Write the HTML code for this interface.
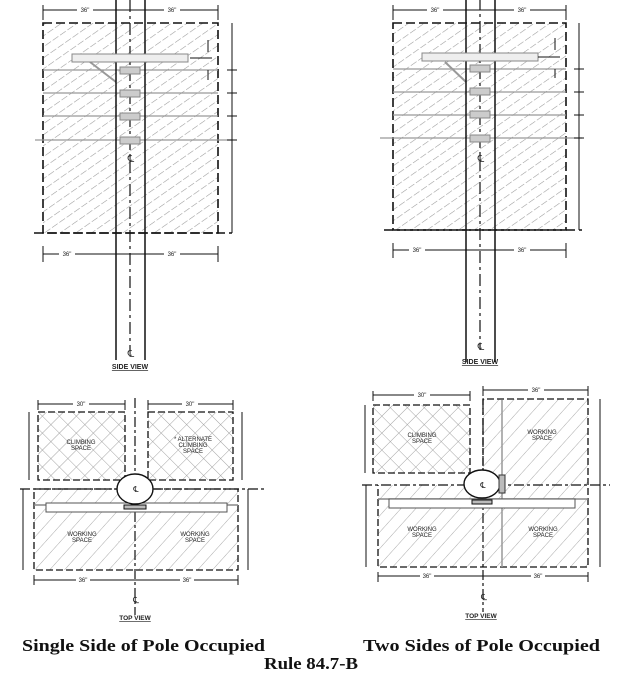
<!DOCTYPE html>
<html><head><meta charset="utf-8"><style>
html,body{margin:0;padding:0;background:#fff;width:634px;height:675px;overflow:hidden}
svg{display:block}
.t{font-family:"Liberation Sans",sans-serif;font-size:6px;fill:#222}
.c{font-family:"Liberation Serif",serif;font-weight:bold;font-size:16.5px;fill:#111}
</style></head><body>
<svg width="634" height="675" viewBox="0 0 634 675" xmlns="http://www.w3.org/2000/svg">
<defs>
<pattern id="h" width="9" height="9" patternUnits="userSpaceOnUse" patternTransform="rotate(55)">
<line x1="0" y1="0" x2="0" y2="9" stroke="#999" stroke-width="1.1" stroke-dasharray="7 2"/>
</pattern>
<pattern id="h2" width="11" height="11" patternUnits="userSpaceOnUse" patternTransform="rotate(42)">
<line x1="0" y1="0" x2="0" y2="11" stroke="#aaa" stroke-width="1"/>
</pattern>
<pattern id="x" width="12" height="12" patternUnits="userSpaceOnUse" patternTransform="rotate(45)">
<line x1="0" y1="0" x2="0" y2="12" stroke="#999" stroke-width="0.9"/>
<line x1="0" y1="0" x2="12" y2="0" stroke="#999" stroke-width="0.9"/>
</pattern>
</defs>

<!-- ===== LEFT SIDE VIEW ===== -->
<g stroke="#111" fill="none">
<rect x="43" y="23" width="175" height="210" fill="url(#h)" stroke="none"/>
<rect x="43" y="23" width="175" height="210" stroke-width="1.6" stroke-dasharray="9 4"/>
<line x1="34" y1="233" x2="232" y2="233" stroke-width="1.6" stroke-dasharray="9 4"/>
<g stroke="#999" stroke-width="1.2">
<line x1="43" y1="70" x2="218" y2="70"/><line x1="43" y1="93" x2="218" y2="93"/>
<line x1="43" y1="116" x2="218" y2="116"/><line x1="35" y1="140" x2="232" y2="140"/>
<line x1="90" y1="62" x2="116" y2="82" stroke-width="2"/>
</g>
<line x1="116" y1="0" x2="116" y2="360" stroke-width="1.5"/>
<line x1="145" y1="0" x2="145" y2="360" stroke-width="1.5"/>
<line x1="130" y1="0" x2="130" y2="350" stroke-width="1.2" stroke-dasharray="12 4 3 4"/>
<rect x="72" y="54" width="116" height="8" fill="#eee" stroke="#888"/>
<g fill="#ccc" stroke="#888"><rect x="120" y="67" width="20" height="7"/><rect x="120" y="90" width="20" height="7"/><rect x="120" y="113" width="20" height="7"/><rect x="120" y="137" width="20" height="7"/></g>
<g stroke-width="1">
<line x1="43" y1="10" x2="218" y2="10"/><line x1="43" y1="5" x2="43" y2="20"/><line x1="218" y1="5" x2="218" y2="20"/>
<line x1="232" y1="23" x2="232" y2="233"/>
<line x1="227" y1="70" x2="237" y2="70"/><line x1="227" y1="93" x2="237" y2="93"/><line x1="227" y1="116" x2="237" y2="116"/><line x1="227" y1="140" x2="237" y2="140"/>
<line x1="208" y1="40" x2="208" y2="52"/><line x1="208" y1="70" x2="208" y2="80"/><line x1="190" y1="58" x2="212" y2="58"/>
<line x1="43" y1="254" x2="218" y2="254"/><line x1="43" y1="246" x2="43" y2="262"/><line x1="218" y1="246" x2="218" y2="262"/>
</g>
</g>
<g class="t" text-anchor="middle">
<rect x="77" y="6" width="16" height="8" fill="#fff"/><text x="85" y="12">36"</text>
<rect x="164" y="6" width="16" height="8" fill="#fff"/><text x="172" y="12">36"</text>
<rect x="59" y="250" width="16" height="8" fill="#fff"/><text x="67" y="256">36"</text>
<rect x="164" y="250" width="16" height="8" fill="#fff"/><text x="172" y="256">36"</text>
<text x="131" y="162" font-size="10">℄</text>
<text x="131" y="357" font-size="10">℄</text>
<text x="130" y="369" font-size="7" font-weight="bold" text-decoration="underline">SIDE VIEW</text>
</g>

<!-- ===== RIGHT SIDE VIEW ===== -->
<g transform="translate(350,-2)">
<g stroke="#111" fill="none">
<rect x="43" y="25" width="173" height="207" fill="url(#h)" stroke="none"/>
<rect x="43" y="25" width="173" height="207" stroke-width="1.6" stroke-dasharray="9 4"/>
<line x1="34" y1="232" x2="232" y2="232" stroke-width="1.6" stroke-dasharray="9 4"/>
<g stroke="#999" stroke-width="1.2">
<line x1="43" y1="71" x2="216" y2="71"/><line x1="43" y1="94" x2="216" y2="94"/>
<line x1="43" y1="117" x2="216" y2="117"/><line x1="30" y1="140" x2="232" y2="140"/>
<line x1="95" y1="64" x2="116" y2="84" stroke-width="2"/>
</g>
<line x1="116" y1="0" x2="116" y2="364" stroke-width="1.5"/>
<line x1="145" y1="0" x2="145" y2="364" stroke-width="1.5"/>
<line x1="130" y1="0" x2="130" y2="352" stroke-width="1.2" stroke-dasharray="12 4 3 4"/>
<rect x="72" y="55" width="116" height="8" fill="#eee" stroke="#888"/>
<g fill="#ccc" stroke="#888"><rect x="120" y="67" width="20" height="7"/><rect x="120" y="90" width="20" height="7"/><rect x="120" y="113" width="20" height="7"/><rect x="120" y="137" width="20" height="7"/></g>
<g stroke-width="1">
<line x1="43" y1="12" x2="216" y2="12"/><line x1="43" y1="7" x2="43" y2="22"/><line x1="216" y1="7" x2="216" y2="22"/>
<line x1="229" y1="25" x2="229" y2="232"/>
<line x1="224" y1="71" x2="234" y2="71"/><line x1="224" y1="94" x2="234" y2="94"/><line x1="224" y1="117" x2="234" y2="117"/><line x1="224" y1="140" x2="234" y2="140"/>
<line x1="205" y1="40" x2="205" y2="52"/><line x1="205" y1="71" x2="205" y2="80"/><line x1="188" y1="59" x2="210" y2="59"/>
<line x1="43" y1="252" x2="216" y2="252"/><line x1="43" y1="245" x2="43" y2="260"/><line x1="216" y1="245" x2="216" y2="260"/>
</g>
</g>
<g class="t" text-anchor="middle">
<rect x="77" y="8" width="16" height="8" fill="#fff"/><text x="85" y="14">36"</text>
<rect x="164" y="8" width="16" height="8" fill="#fff"/><text x="172" y="14">36"</text>
<rect x="59" y="248" width="16" height="8" fill="#fff"/><text x="67" y="254">36"</text>
<rect x="164" y="248" width="16" height="8" fill="#fff"/><text x="172" y="254">36"</text>
<text x="131" y="164" font-size="10">℄</text>
<text x="131" y="352" font-size="10">℄</text>
<text x="130" y="366" font-size="7" font-weight="bold" text-decoration="underline">SIDE VIEW</text>
</g>
</g>

<!-- ===== LEFT TOP VIEW ===== -->
<g stroke="#111" fill="none">
<rect x="38" y="412" width="87" height="68" fill="url(#x)" stroke="none"/>
<rect x="38" y="412" width="87" height="68" stroke-width="1.3" stroke-dasharray="7 3"/>
<rect x="148" y="412" width="85" height="68" fill="url(#x)" stroke="none"/>
<rect x="148" y="412" width="85" height="68" stroke-width="1.3" stroke-dasharray="7 3"/>
<rect x="34" y="489" width="204" height="81" fill="url(#h2)" stroke="none"/>
<rect x="34" y="489" width="204" height="81" stroke-width="1.3" stroke-dasharray="7 3"/>
<line x1="20" y1="489" x2="265" y2="489" stroke-width="1.2" stroke-dasharray="10 3 3 3"/>
<line x1="135" y1="398" x2="135" y2="615" stroke-width="1.2" stroke-dasharray="10 3 3 3"/>
<line x1="34" y1="505" x2="238" y2="505" stroke="#888" stroke-width="1.5"/>
<rect x="46" y="503" width="181" height="9" fill="#fff" stroke="#555"/>
<ellipse cx="135" cy="489" rx="18" ry="15" fill="#fff" stroke-width="1.4"/>
<rect x="124" y="505" width="22" height="4" fill="#bbb"/>
<g stroke-width="1">
<line x1="38" y1="404" x2="125" y2="404"/><line x1="38" y1="400" x2="38" y2="410"/><line x1="125" y1="400" x2="125" y2="410"/>
<line x1="148" y1="404" x2="233" y2="404"/><line x1="148" y1="400" x2="148" y2="410"/><line x1="233" y1="400" x2="233" y2="410"/>
<line x1="29" y1="412" x2="29" y2="480"/><line x1="242" y1="412" x2="242" y2="480"/>
<line x1="23" y1="489" x2="23" y2="570"/><line x1="248" y1="489" x2="248" y2="570"/>
<line x1="34" y1="580" x2="238" y2="580"/><line x1="34" y1="575" x2="34" y2="585"/><line x1="238" y1="575" x2="238" y2="585"/>
</g>
</g>
<g class="t" text-anchor="middle" font-size="5">
<rect x="73" y="401" width="16" height="7" fill="#fff"/><text x="81" y="406">30"</text>
<rect x="182" y="401" width="16" height="7" fill="#fff"/><text x="190" y="406">30"</text>
<text x="81" y="444">CLIMBING</text><text x="81" y="450">SPACE</text>
<text x="193" y="441">* ALTERNATE</text><text x="193" y="447">CLIMBING</text><text x="193" y="453">SPACE</text>
<text x="82" y="536">WORKING</text><text x="82" y="542">SPACE</text>
<text x="195" y="536">WORKING</text><text x="195" y="542">SPACE</text>
<rect x="76" y="577" width="14" height="7" fill="#fff"/><text x="83" y="582">36"</text>
<rect x="180" y="577" width="14" height="7" fill="#fff"/><text x="187" y="582">36"</text>
<text x="136" y="492" font-size="8">℄</text>
<text x="136" y="603" font-size="9">℄</text>
<text x="135" y="620" font-size="6.5" font-weight="bold" text-decoration="underline">TOP VIEW</text>
</g>

<!-- ===== RIGHT TOP VIEW ===== -->
<g stroke="#111" fill="none">
<rect x="373" y="405" width="97" height="68" fill="url(#x)" stroke="none"/>
<rect x="373" y="405" width="97" height="68" stroke-width="1.3" stroke-dasharray="7 3"/>
<rect x="483" y="399" width="105" height="86" fill="url(#h2)" stroke="none"/>
<rect x="378" y="485" width="210" height="82" fill="url(#h2)" stroke="none"/>
<path d="M483 485 V399 H588 V567 H378 V485" stroke-width="1.3" stroke-dasharray="7 3"/>
<line x1="362" y1="485" x2="610" y2="485" stroke-width="1.2" stroke-dasharray="10 3 3 3"/>
<line x1="483" y1="399" x2="483" y2="612" stroke-width="1.2" stroke-dasharray="10 3 3 3"/>
<line x1="502" y1="400" x2="502" y2="567" stroke="#999" stroke-width="1.5"/>
<line x1="378" y1="499" x2="588" y2="499" stroke="#888" stroke-width="1.5"/>
<rect x="389" y="499" width="186" height="9" fill="#fff" stroke="#555"/>
<ellipse cx="482" cy="484" rx="18" ry="14" fill="#fff" stroke-width="1.4"/>
<rect x="499" y="475" width="6" height="18" fill="#bbb" stroke="#333"/>
<rect x="472" y="500" width="20" height="4" fill="#bbb"/>
<g stroke-width="1">
<line x1="373" y1="395" x2="470" y2="395"/><line x1="373" y1="391" x2="373" y2="401"/><line x1="470" y1="391" x2="470" y2="401"/>
<line x1="483" y1="390" x2="588" y2="390"/><line x1="483" y1="386" x2="483" y2="396"/><line x1="588" y1="386" x2="588" y2="396"/>
<line x1="365" y1="405" x2="365" y2="473"/>
<line x1="366" y1="485" x2="366" y2="567"/>
<line x1="600" y1="399" x2="600" y2="485"/><line x1="600" y1="485" x2="600" y2="567"/>
<line x1="378" y1="576" x2="588" y2="576"/><line x1="378" y1="572" x2="378" y2="582"/><line x1="588" y1="572" x2="588" y2="582"/>
</g>
</g>
<g class="t" text-anchor="middle" font-size="5">
<rect x="414" y="392" width="16" height="7" fill="#fff"/><text x="422" y="397">30"</text>
<rect x="528" y="387" width="16" height="7" fill="#fff"/><text x="536" y="392">36"</text>
<text x="422" y="437">CLIMBING</text><text x="422" y="443">SPACE</text>
<text x="542" y="434">WORKING</text><text x="542" y="440">SPACE</text>
<text x="422" y="531">WORKING</text><text x="422" y="537">SPACE</text>
<text x="543" y="531">WORKING</text><text x="543" y="537">SPACE</text>
<rect x="420" y="573" width="14" height="7" fill="#fff"/><text x="427" y="578">36"</text>
<rect x="531" y="573" width="14" height="7" fill="#fff"/><text x="538" y="578">36"</text>
<text x="483" y="488" font-size="8">℄</text>
<text x="484" y="600" font-size="9">℄</text>
<text x="481" y="618" font-size="6.5" font-weight="bold" text-decoration="underline">TOP VIEW</text>
</g>

<text class="c" x="22" y="651" textLength="243" lengthAdjust="spacingAndGlyphs">Single Side of Pole Occupied</text>
<text class="c" x="363" y="651" textLength="237" lengthAdjust="spacingAndGlyphs">Two Sides of Pole Occupied</text>
<text class="c" x="264" y="669" textLength="94" lengthAdjust="spacingAndGlyphs">Rule 84.7-B</text>
</svg>
</body></html>
